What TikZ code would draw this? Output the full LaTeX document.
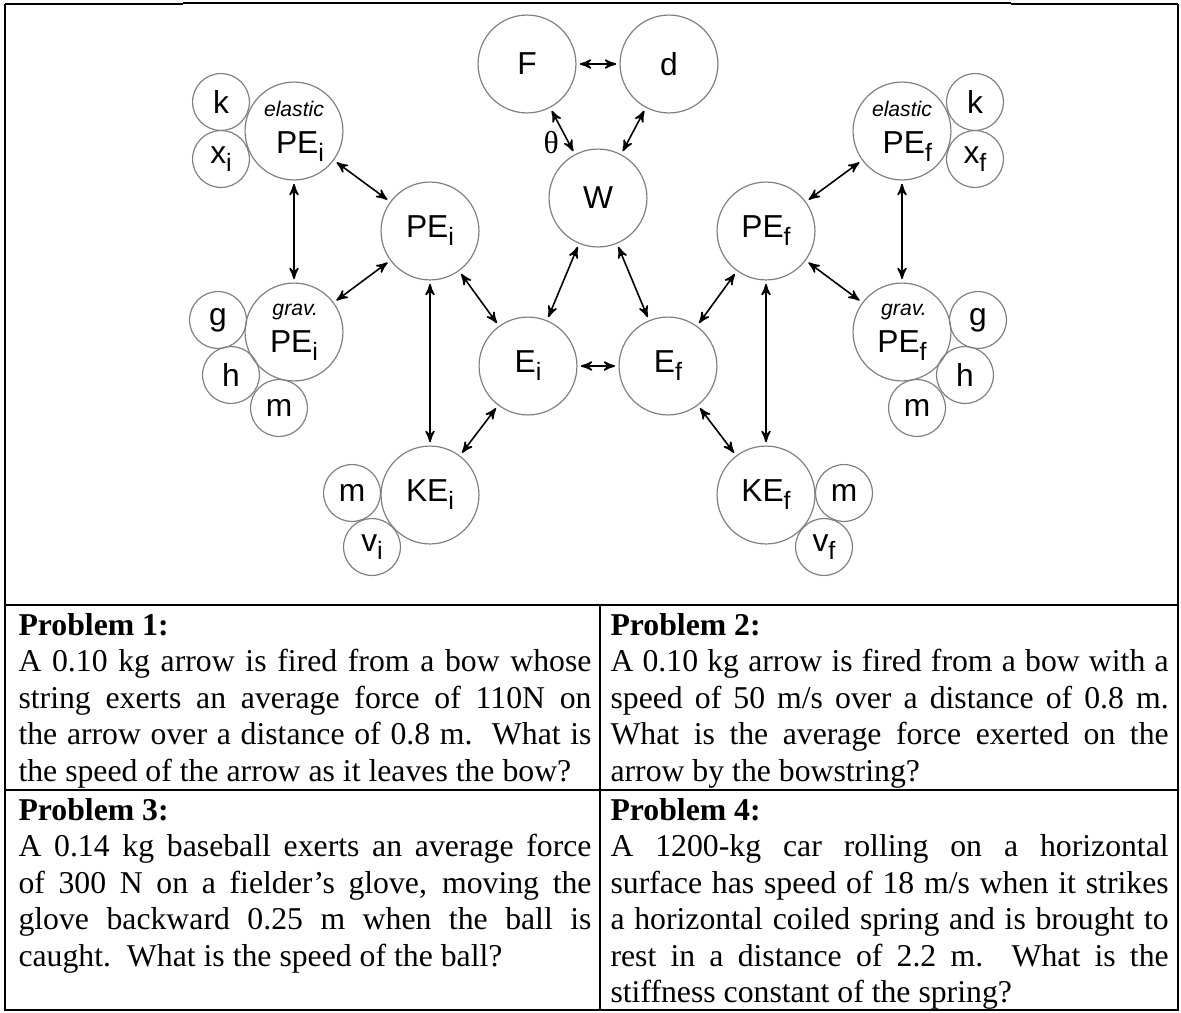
\documentclass[tikz,border=0pt]{standalone}
\usepackage{fontspec}
\setmainfont{Liberation Serif}
\newfontfamily\arialfont{Liberation Sans}
\usepackage{tikz}
\usetikzlibrary{arrows}
\newcommand{\lowsub}[1]{\raisebox{-3pt}{\fontsize{9.5}{10}\selectfont #1}}
\newcommand{\tagfont}{\fontsize{8}{9}\itshape}

\begin{document}
\begin{tikzpicture}[x=0.378pt, y=-0.378pt, >=stealth',
        every node/.style={font=\arialfont\fontsize{12}{14}\selectfont},
        big/.style={circle, draw=gray, line width=0.45pt, minimum size=37pt, inner sep=0pt, outer sep=1.5pt},
        small/.style={circle, draw=gray, line width=0.45pt, minimum size=21.5pt, inner sep=0pt},
        link/.style={<->, line width=0.6pt},
        problem/.style={anchor=north west, inner sep=0pt, align=justify, font=\fontsize{12}{13.8}\selectfont}]
        \useasboundingbox (0,0) rectangle (1181,1013);

        % energy map
        \node[big] (F) at (527,64) {F};
        \node[big] (d) at (669,64) {d};
        \node[big] (W) at (598,198) {W};
        \node[big] (PEi) at (430,231) {PE\lowsub{i}};
        \node[big] (PEf) at (766,231) {PE\lowsub{f}};
        \node[big] (Ei) at (528,366) {E\lowsub{i}};
        \node[big] (Ef) at (668,366) {E\lowsub{f}};
        \node[big] (KEi) at (430,495) {KE\lowsub{i}};
        \node[big] (KEf) at (766,495) {KE\lowsub{f}};
        \node[big, align=right] (elPEi) at (294,131) {{\tagfont elastic}\\PE\lowsub{i}};
        \node[big, align=right] (elPEf) at (902,131) {{\tagfont elastic}\\PE\lowsub{f}};
        \node[big, align=right] (grPEi) at (294,332) {{\tagfont grav.}\\PE\lowsub{i}};
        \node[big, align=right] (grPEf) at (902,332) {{\tagfont grav.}\\PE\lowsub{f}};

        \node[small] (ki) at (221,102) {k};
        \node[small] (xi) at (221,159) {x\lowsub{i}};
        \node[small] (kf) at (975,102) {k};
        \node[small] (xf) at (975,159) {x\lowsub{f}};
        \node[small] (gi) at (218,320) {g};
        \node[small] (hi) at (231,375) {h};
        \node[small] (mi) at (279,408) {m};
        \node[small] (gf) at (978,320) {g};
        \node[small] (hf) at (965,375) {h};
        \node[small] (mf) at (917,408) {m};
        \node[small] (mKi) at (352,493) {m};
        \node[small] (vi) at (372,547) {v\lowsub{i}};
        \node[small] (mKf) at (844,493) {m};
        \node[small] (vf) at (824,547) {v\lowsub{f}};

        \draw[link] (F) -- (d);
        \draw[link] (F) -- (W) node[pos=0.78, left] {\rmfamily θ};
        \draw[link] (d) -- (W);
        \draw[link] (W) -- (Ei);
        \draw[link] (W) -- (Ef);
        \draw[link] (Ei) -- (Ef);
        \draw[link] (PEi) -- (Ei);
        \draw[link] (PEf) -- (Ef);
        \draw[link] (PEi) -- (KEi);
        \draw[link] (PEf) -- (KEf);
        \draw[link] (KEi) -- (Ei);
        \draw[link] (KEf) -- (Ef);
        \draw[link] (elPEi) -- (PEi);
        \draw[link] (grPEi) -- (PEi);
        \draw[link] (elPEi) -- (grPEi);
        \draw[link] (elPEf) -- (PEf);
        \draw[link] (grPEf) -- (PEf);
        \draw[link] (elPEf) -- (grPEf);

        % table
        \draw[line width=0.9pt] (5,4) -- (183,4);
        \draw[line width=0.4pt] (183,3) -- (1011,3);
        \draw[line width=0.9pt] (1011,4) -- (1178,4);
        \draw[line width=0.9pt] (5,4) -- (5,1010) -- (1178,1010) -- (1178,4);
        \draw[line width=0.9pt] (5,605) -- (1178,605);
        \draw[line width=0.9pt] (5,790) -- (1178,790);
        \draw[line width=0.9pt] (600,605) -- (600,1010);

        \node[problem, text width=216.6pt] (p1) at (18,612.5) {\textbf{Problem 1:}\\
            A 0.10 kg arrow is fired from a bow whose\linebreak
            string exerts an average force of 110N on\linebreak
            the arrow over a distance of 0.8 m.\ \ What is\linebreak
            the speed of the arrow as it leaves the bow?};
        \node[problem, text width=211pt] (p2) at (610,612.5) {\textbf{Problem 2:}\\
            A 0.10 kg arrow is fired from a bow with a\linebreak
            speed of 50 m/s over a distance of 0.8 m.\linebreak
            What is the average force exerted on the\linebreak
            arrow by the bowstring?};
        \node[problem, text width=216.6pt] (p3) at (18,797.5) {\textbf{Problem 3:}\\
            A 0.14 kg baseball exerts an average force\linebreak
            of 300 N on a fielder’s glove, moving the\linebreak
            glove backward 0.25 m when the ball is\linebreak
            caught.\ \ What is the speed of the ball?};
        \node[problem, text width=211pt] (p4) at (610,797.5) {\textbf{Problem 4:}\\
            A 1200-kg car rolling on a horizontal\linebreak
            surface has speed of 18 m/s when it strikes\linebreak
            a horizontal coiled spring and is brought to\linebreak
            rest in a distance of 2.2 m.\ \ What is the\linebreak
            stiffness constant of the spring?};
\end{tikzpicture}
\end{document}
